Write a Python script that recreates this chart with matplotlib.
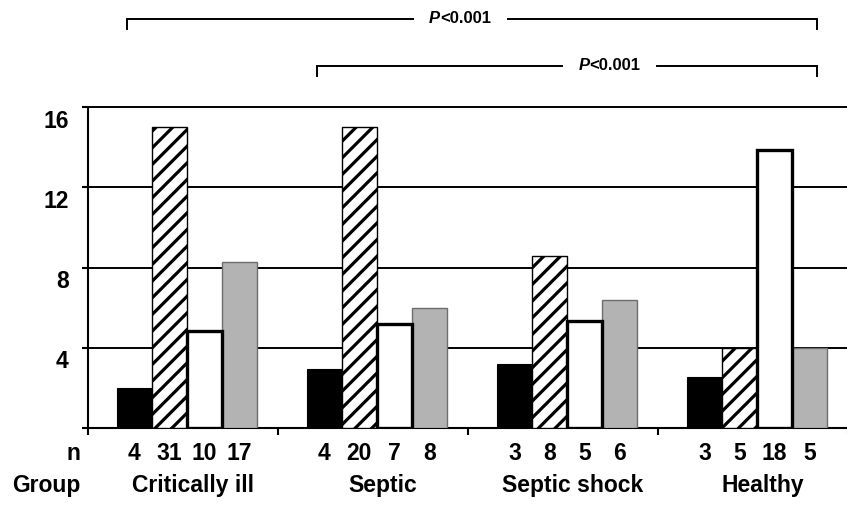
import matplotlib
matplotlib.use("Agg")
import matplotlib.pyplot as plt
import matplotlib.transforms as mtransforms
import numpy as np

plt.rcParams['font.family'] = ['Liberation Sans', 'DejaVu Sans']
plt.rcParams['font.weight'] = 'bold'
plt.rcParams['hatch.linewidth'] = 2.3

categories = ['Critically ill', 'Septic', 'Septic shock', 'Healthy']
black_vals = [2.0, 2.95, 3.2, 2.55]
hatched_vals = [15.0, 15.0, 8.55, 4.0]
white_vals = [4.85, 5.2, 5.35, 13.85]
gray_vals = [8.25, 6.0, 6.4, 4.0]
n_counts = [[4, 31, 10, 17], [4, 20, 7, 8], [3, 8, 5, 6], [3, 5, 18, 5]]
y_ticks = [0, 4, 8, 12, 16]
y_ticklabels = ['', '4', '8', '12', '16']
# (first group, last group, italic part, rest, label x, level y)
comparisons = [(0, 3, 'P', '<0.001', 1.958, 20.4), (1, 3, 'P', '<0.001', 2.745, 18.05)]

fig = plt.figure(figsize=(8.47, 5.05), dpi=100)
ax = fig.add_axes([88/847, 1-428/505, (848-88)/847, (428-107)/505])

centers = np.arange(len(categories)) + 0.52
w = 0.184
offs = np.array([-1.5, -0.5, 0.5, 1.5]) * w

ax.bar(centers + offs[0], black_vals, w, color='black', edgecolor='black', linewidth=0.8, zorder=3)
ax.bar(centers + offs[1], hatched_vals, w, color='white', edgecolor='black', hatch='//', linewidth=1.0, zorder=3)
ax.bar(centers + offs[3], gray_vals, w, color='#b3b3b3', edgecolor='#6e6e6e', linewidth=1.0, zorder=3)
ax.bar(centers + offs[2], white_vals, w, color='white', edgecolor='black', linewidth=2.4, zorder=4)

ax.set_xlim(0, 4)
ax.set_ylim(0, 16)
ax.set_yticks(y_ticks)
ax.set_yticklabels(y_ticklabels, fontsize=16.5, fontweight='bold')
ax.set_xticks([0, 1, 2, 3, 4])
ax.set_xticklabels([])
ax.tick_params(axis='y', direction='out', length=4, width=1.5, pad=10)
ax.tick_params(axis='x', direction='out', length=5, width=1.5)
for lab in ax.get_yticklabels():
    lab.set_transform(lab.get_transform() + mtransforms.ScaledTranslation(0, -0.115, fig.dpi_scale_trans))

ax.yaxis.grid(True, color='black', linewidth=1.4)
for gl in ax.get_ygridlines():
    gl.set_clip_on(False)
ax.set_axisbelow(True)
for s in ['top', 'right']:
    ax.spines[s].set_visible(False)
ax.spines['left'].set_linewidth(1.5)
ax.spines['bottom'].set_linewidth(1.5)

# n row and group row
ax.text(-0.042, -1.25, 'n', ha='right', va='center', fontsize=16.5, fontweight='bold', clip_on=False)
ax.text(-0.042, -2.85, 'Group', ha='right', va='center', fontsize=16.5, fontweight='bold', clip_on=False)
for i, cat in enumerate(categories):
    for j in range(4):
        ax.text(centers[i] + offs[j], -1.25, str(n_counts[i][j]), ha='center', va='center',
                fontsize=16.5, fontweight='bold', clip_on=False)
    ax.text(centers[i] + 0.03, -2.85, cat, ha='center', va='center', fontsize=16.5,
            fontweight='bold', clip_on=False)

# comparison brackets
half_gap = 0.25
for g0, g1, ptxt, rest, tx, ly in comparisons:
    x0 = centers[g0] - 0.315
    x1 = centers[g1] + 0.315
    drop = 0.5
    ax.plot([x0, x0, tx - half_gap], [ly - drop, ly, ly], color='black', lw=1.4, clip_on=False,
            solid_joinstyle='miter')
    ax.plot([tx + half_gap, x1, x1], [ly, ly, ly - drop], color='black', lw=1.4, clip_on=False,
            solid_joinstyle='miter')
    shift = mtransforms.ScaledTranslation(-0.2, 0, fig.dpi_scale_trans)
    ax.text(tx, ly, ptxt, ha='right', va='center', fontsize=12, fontweight='bold', style='italic',
            transform=ax.transData + shift, clip_on=False)
    ax.text(tx, ly, rest, ha='left', va='center', fontsize=12, fontweight='bold',
            transform=ax.transData + shift, clip_on=False)

fig.savefig('out.png', dpi=100)
